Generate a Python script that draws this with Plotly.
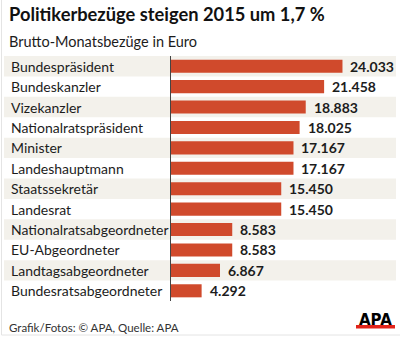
import plotly.graph_objects as go

# Brutto-Monatsbezüge 2015 in Euro
positions = [
    "Bundespräsident", "Bundeskanzler", "Vizekanzler", "Nationalratspräsident",
    "Minister", "Landeshauptmann", "Staatssekretär", "Landesrat",
    "Nationalratsabgeordneter", "EU-Abgeordneter", "Landtagsabgeordneter",
    "Bundesratsabgeordneter",
]
salaries = [24033, 21458, 18883, 18025, 17167, 17167, 15450, 15450,
            8583, 8583, 6867, 4292]

title_text = "Politikerbezüge steigen 2015 um 1,7 %"
subtitle_text = "Brutto-Monatsbezüge in Euro"
source_text = "Grafik/Fotos: © APA, Quelle: APA"

W, H = 400, 337
ML, MR, MT, MB = 171, 29, 56, 36
PW = W - ML - MR
PH = H - MT - MB

BAR = "#d04a2c"
ROW = "#f3f1eb"
TEXT = "#1c1c1c"
FONT = "Lato"


def px_x(px):
    return (px - ML) / PW


def px_y(py):
    return (H - MB - py) / PH


def de(v):
    return f"{v:,}".replace(",", ".")


idx = list(range(len(positions)))

fig = go.Figure(go.Bar(
    x=salaries, y=idx, orientation="h",
    marker=dict(color=BAR, line=dict(width=0)),
    width=0.64, hoverinfo="skip",
))

shapes = []
for i in idx:
    if i % 2 == 0:
        shapes.append(dict(type="rect", layer="below", xref="paper", yref="y",
                           x0=px_x(4), x1=px_x(396), y0=i - 0.5, y1=i + 0.5,
                           fillcolor=ROW, line=dict(width=0)))
# APA logo underline
shapes.append(dict(type="rect", xref="paper", yref="paper",
                   x0=px_x(356), x1=px_x(395), y0=px_y(328.5), y1=px_y(325),
                   fillcolor="#e2231a", line=dict(width=0)))
# thin frame at left and bottom edge
shapes.append(dict(type="line", xref="paper", yref="paper",
                   x0=px_x(1.5), x1=px_x(1.5), y0=px_y(0), y1=px_y(335),
                   line=dict(color="#e4e4e4", width=1)))
shapes.append(dict(type="line", xref="paper", yref="paper",
                   x0=px_x(1.5), x1=px_x(400), y0=px_y(335), y1=px_y(335),
                   line=dict(color="#e4e4e4", width=1)))

annotations = []
for i, (name, v) in enumerate(zip(positions, salaries)):
    annotations.append(dict(xref="paper", yref="y", x=px_x(9), y=i,
                            text=name, showarrow=False, xanchor="left",
                            yanchor="middle",
                            font=dict(family=FONT, size=14, color=TEXT)))
    annotations.append(dict(xref="x", yref="y", x=v, y=i, xshift=6,
                            text="<b>" + de(v) + "</b>", showarrow=False,
                            xanchor="left", yanchor="middle",
                            font=dict(family=FONT, size=14, color=TEXT)))

annotations += [
    dict(xref="paper", yref="paper", x=px_x(7), y=px_y(14),
         text="<b>" + title_text + "</b>", showarrow=False,
         xanchor="left", yanchor="middle",
         font=dict(family=FONT, size=18.3, color="#111")),
    dict(xref="paper", yref="paper", x=px_x(7), y=px_y(42),
         text=subtitle_text, showarrow=False, xanchor="left", yanchor="middle",
         font=dict(family=FONT, size=14.5, color=TEXT)),
    dict(xref="paper", yref="paper", x=px_x(7), y=px_y(327),
         text=source_text, showarrow=False, xanchor="left", yanchor="middle",
         font=dict(family=FONT, size=11.5, color="#333")),
    dict(xref="paper", yref="paper", x=px_x(375.5), y=px_y(319.5),
         text="<b>APA</b>", showarrow=False, xanchor="center",
         yanchor="middle",
         font=dict(family="DejaVu Sans", size=15, color="#000")),
]

fig.update_layout(
    width=W, height=H,
    margin=dict(l=ML, r=MR, t=MT, b=MB, pad=0),
    paper_bgcolor="white", plot_bgcolor="rgba(0,0,0,0)",
    showlegend=False,
    xaxis=dict(range=[0, 28030], visible=False, fixedrange=True),
    yaxis=dict(range=[len(positions) - 0.5, -0.5], showticklabels=False,
               showgrid=False, zeroline=False, showline=True,
               linecolor="#444", linewidth=1, ticks="", fixedrange=True),
    shapes=shapes, annotations=annotations,
)

fig.write_html("out.html", config={"displayModeBar": False})
